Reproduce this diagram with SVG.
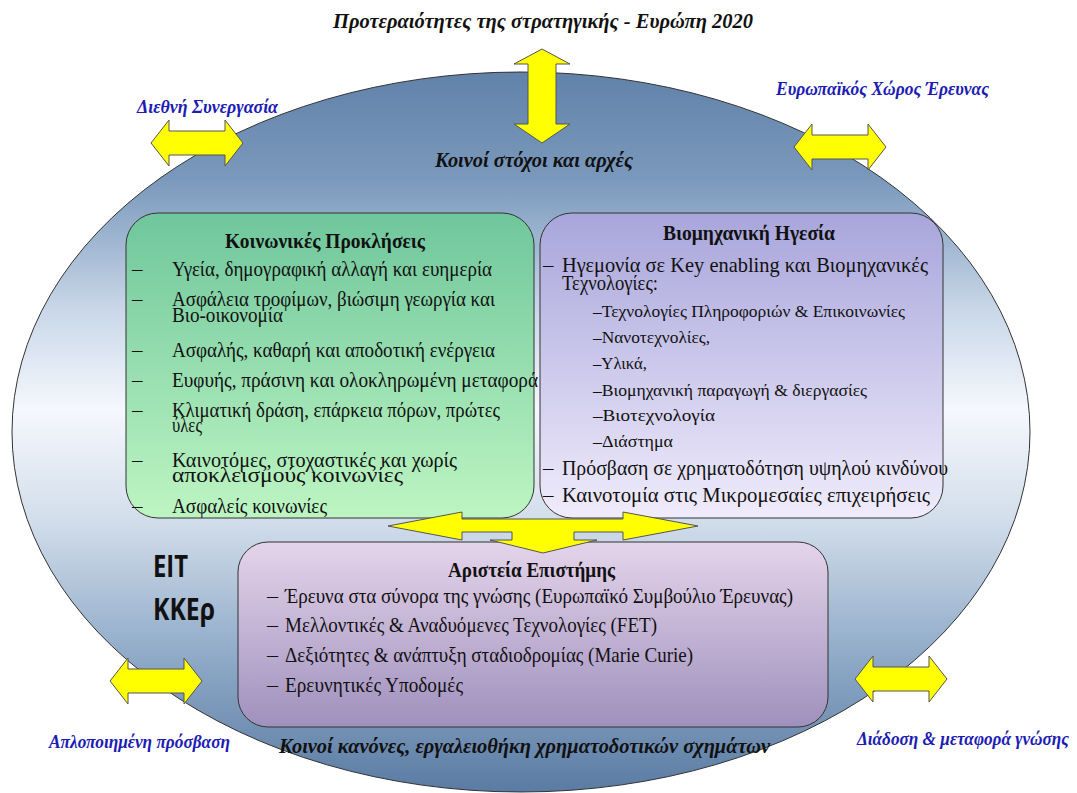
<svg xmlns="http://www.w3.org/2000/svg" width="1077" height="793" viewBox="0 0 1077 793">
<style>
.ser{font-family:"Liberation Serif","Times New Roman",serif;fill:#111}
.bi{font-weight:bold;font-style:italic}
.b{font-weight:bold}
.blue{fill:#1c1cb4}
.it{font-size:21px}
.sub{font-size:16px}
.sans{font-family:"Open Sans","Liberation Sans",sans-serif;font-weight:bold;font-size:30px;fill:#111}
.box{stroke:#333;stroke-width:1}
.arr{fill:#ffff00;stroke:#555;stroke-width:1;stroke-linejoin:miter}
</style>
<defs>
<linearGradient id="gEll" x1="0" y1="72" x2="0" y2="792" gradientUnits="userSpaceOnUse">
<stop offset="0" stop-color="#6182a9"/>
<stop offset="0.15" stop-color="#7a99bc"/>
<stop offset="0.33" stop-color="#c9d7e8"/>
<stop offset="0.47" stop-color="#f5f8fd"/>
<stop offset="0.62" stop-color="#d3deeb"/>
<stop offset="0.8" stop-color="#93adca"/>
<stop offset="1" stop-color="#5a7ba3"/>
</linearGradient>
<linearGradient id="gGreen" x1="0" y1="0" x2="0" y2="1">
<stop offset="0" stop-color="#6fc69c"/>
<stop offset="1" stop-color="#bdf5c2"/>
</linearGradient>
<linearGradient id="gPurple" x1="0" y1="0" x2="0" y2="1">
<stop offset="0" stop-color="#a8a5db"/>
<stop offset="1" stop-color="#f0ecfc"/>
</linearGradient>
<linearGradient id="gPink" x1="0" y1="0" x2="0" y2="1">
<stop offset="0" stop-color="#e4d4ea"/>
<stop offset="1" stop-color="#9f90bd"/>
</linearGradient>
<path id="harrow" d="M-46,0 L-28,-23 L-28,-12 L28,-12 L28,-23 L46,0 L28,23 L28,12 L-28,12 L-28,23 Z"/>
</defs>

<rect width="1077" height="793" fill="#ffffff"/>

<g id="background">
<ellipse cx="521" cy="432" rx="509" ry="360" fill="url(#gEll)" stroke="#333" stroke-width="1"/>
</g>

<g id="title">
<text class="ser bi" x="333" y="28" font-size="20" textLength="420" lengthAdjust="spacingAndGlyphs">Προτεραιότητες της στρατηγικής - Ευρώπη 2020</text>
</g>

<g id="common-goals">
<text class="ser bi" x="435" y="167" font-size="22" textLength="198" lengthAdjust="spacingAndGlyphs">Κοινοί στόχοι και αρχές</text>
</g>
<g id="common-rules">
<text class="ser bi" x="279" y="753" font-size="22" textLength="491" lengthAdjust="spacingAndGlyphs">Κοινοί κανόνες, εργαλειοθήκη χρηματοδοτικών σχημάτων</text>
</g>

<g id="label-international">
<text class="ser bi blue" x="137" y="113" font-size="18" textLength="141" lengthAdjust="spacingAndGlyphs">Διεθνή Συνεργασία</text>
</g>
<g id="label-era">
<text class="ser bi blue" x="776" y="95" font-size="18" textLength="213" lengthAdjust="spacingAndGlyphs">Ευρωπαϊκός Χώρος Έρευνας</text>
</g>
<g id="label-access">
<text class="ser bi blue" x="49" y="748" font-size="18" textLength="181" lengthAdjust="spacingAndGlyphs">Απλοποιημένη πρόσβαση</text>
</g>
<g id="label-knowledge">
<text class="ser bi blue" x="857" y="745" font-size="18" textLength="212" lengthAdjust="spacingAndGlyphs">Διάδοση &amp; μεταφορά γνώσης</text>
</g>

<g id="eit">
<text class="sans" x="153" y="577" textLength="35" lengthAdjust="spacingAndGlyphs">EIT</text>
<text class="sans" x="153" y="620" textLength="62" lengthAdjust="spacingAndGlyphs">ΚΚΕρ</text>
</g>

<g id="societal-challenges">
<rect class="box" x="126" y="213" width="408" height="305" rx="32" fill="url(#gGreen)"/>
<text class="ser b" x="225" y="248" font-size="21" textLength="200" lengthAdjust="spacingAndGlyphs">Κοινωνικές Προκλήσεις</text>
<g class="ser it">
<text x="132" y="276">–</text><text x="172" y="276" textLength="320" lengthAdjust="spacingAndGlyphs">Υγεία, δημογραφική αλλαγή και ευημερία</text>
<text x="132" y="306">–</text><text x="172" y="306" textLength="323" lengthAdjust="spacingAndGlyphs">Ασφάλεια τροφίμων, βιώσιμη γεωργία και</text>
<text x="172" y="322" textLength="111" lengthAdjust="spacingAndGlyphs">Βιο-οικονομία</text>
<text x="132" y="357">–</text><text x="172" y="357" textLength="323" lengthAdjust="spacingAndGlyphs">Ασφαλής, καθαρή και αποδοτική ενέργεια</text>
<text x="132" y="387">–</text><text x="172" y="387" textLength="366" lengthAdjust="spacingAndGlyphs">Ευφυής, πράσινη και ολοκληρωμένη μεταφορά</text>
<text x="132" y="417">–</text><text x="172" y="417" textLength="328" lengthAdjust="spacingAndGlyphs">Κλιματική δράση, επάρκεια πόρων, πρώτες</text>
<text x="172" y="432" textLength="30" lengthAdjust="spacingAndGlyphs">ύλες</text>
<text x="132" y="467">–</text><text x="172" y="467" textLength="285" lengthAdjust="spacingAndGlyphs">Καινοτόμες, στοχαστικές και χωρίς</text>
<text x="172" y="482" textLength="231" lengthAdjust="spacingAndGlyphs">αποκλεισμούς κοινωνίες</text>
<text x="132" y="513">–</text><text x="172" y="513" textLength="155" lengthAdjust="spacingAndGlyphs">Ασφαλείς κοινωνίες</text>
</g>
</g>

<g id="industrial-leadership">
<rect class="box" x="540" y="213" width="403" height="305" rx="32" fill="url(#gPurple)"/>
<text class="ser b" x="663" y="240" font-size="21" textLength="172" lengthAdjust="spacingAndGlyphs">Βιομηχανική Ηγεσία</text>
<g class="ser it">
<text x="543" y="272">–</text><text x="562" y="272" textLength="366" lengthAdjust="spacingAndGlyphs">Ηγεμονία σε Key enabling και Βιομηχανικές</text>
<text x="562" y="290" textLength="96" lengthAdjust="spacingAndGlyphs">Τεχνολογίες:</text>
</g>
<g class="ser sub">
<text x="593" y="317" textLength="312" lengthAdjust="spacingAndGlyphs">–Τεχνολογίες Πληροφοριών &amp; Επικοινωνίες</text>
<text x="593" y="343" textLength="117" lengthAdjust="spacingAndGlyphs">–Νανοτεχνολίες,</text>
<text x="593" y="369" textLength="54" lengthAdjust="spacingAndGlyphs">–Υλικά,</text>
<text x="593" y="396" textLength="274" lengthAdjust="spacingAndGlyphs">–Βιομηχανική  παραγωγή &amp; διεργασίες</text>
<text x="593" y="421" textLength="122" lengthAdjust="spacingAndGlyphs">–Βιοτεχνολογία</text>
<text x="593" y="447" textLength="80" lengthAdjust="spacingAndGlyphs">–Διάστημα</text>
</g>
<g class="ser it">
<text x="543" y="475">–</text><text x="562" y="475" textLength="386" lengthAdjust="spacingAndGlyphs">Πρόσβαση σε χρηματοδότηση υψηλού κινδύνου</text>
<text x="543" y="502">–</text><text x="562" y="502" textLength="368" lengthAdjust="spacingAndGlyphs">Καινοτομία στις Μικρομεσαίες επιχειρήσεις</text>
</g>
</g>

<g id="excellent-science">
<rect class="box" x="238" y="542" width="590" height="185" rx="30" fill="url(#gPink)"/>
<text class="ser b" x="448" y="577" font-size="22" textLength="167" lengthAdjust="spacingAndGlyphs">Αριστεία Επιστήμης</text>
<g class="ser" font-size="22">
<text x="267" y="603">–</text><text x="285" y="603" textLength="508" lengthAdjust="spacingAndGlyphs">Έρευνα στα σύνορα της γνώσης (Ευρωπαϊκό Συμβούλιο Έρευνας)</text>
<text x="267" y="632">–</text><text x="285" y="632" textLength="372" lengthAdjust="spacingAndGlyphs">Μελλοντικές &amp; Αναδυόμενες Τεχνολογίες (FET)</text>
<text x="267" y="662">–</text><text x="285" y="662" textLength="408" lengthAdjust="spacingAndGlyphs">Δεξιότητες &amp; ανάπτυξη σταδιοδρομίας (Marie Curie)</text>
<text x="267" y="692">–</text><text x="285" y="692" textLength="178" lengthAdjust="spacingAndGlyphs">Ερευνητικές Υποδομές</text>
</g>
</g>

<g id="connectors">
<path class="arr" d="M542,49 L570,64 L556,64 L556,124 L570,124 L542,143 L514,124 L528,124 L528,64 L514,64 Z"/>
<use href="#harrow" class="arr" transform="translate(197,143)"/>
<use href="#harrow" class="arr" transform="translate(840,147)"/>
<use href="#harrow" class="arr" transform="translate(156,681)"/>
<use href="#harrow" class="arr" transform="translate(901,679)"/>
<path class="arr" d="M388,526 L462,512 L462,519 L623,519 L623,512 L698,526 L623,540 L623,532 L574,532 L574,540 L597,540 L543,553 L490,540 L512,540 L512,532 L462,532 L462,540 Z"/>
</g>
</svg>
